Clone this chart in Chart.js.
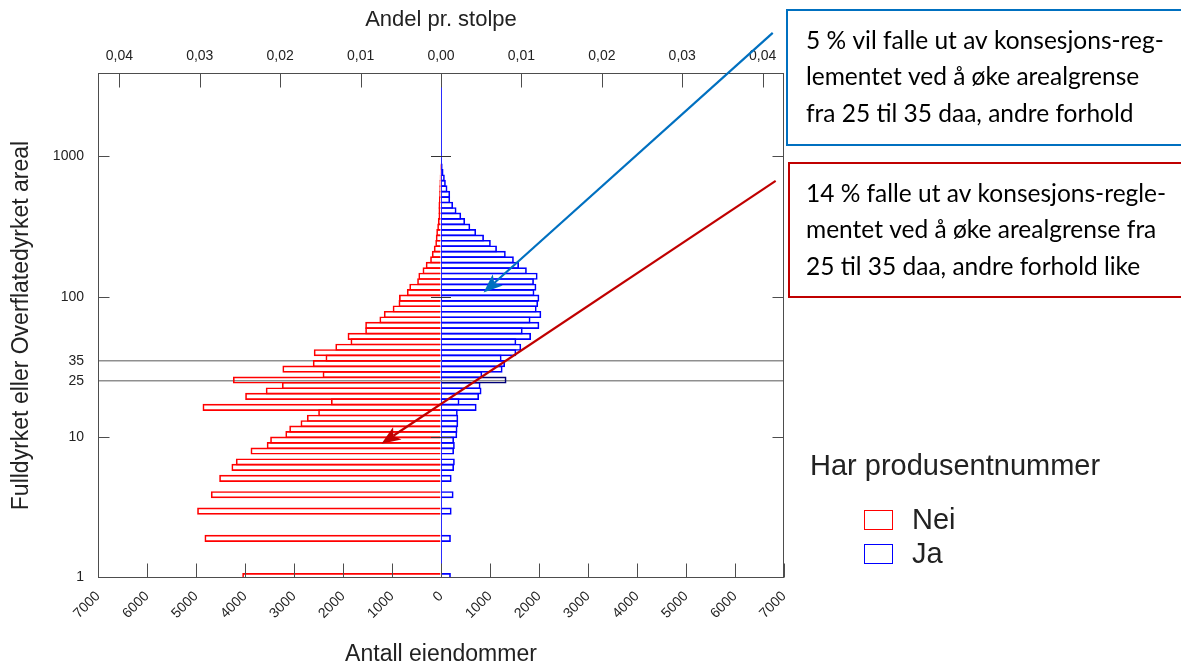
<!DOCTYPE html>
<html lang="no">
<head>
<meta charset="utf-8">
<title>Eiendommer etter fulldyrket areal</title>
<script src="https://cdn.jsdelivr.net/npm/chart.js@4.4.1/dist/chart.umd.min.js"></script>
<style>
  html, body { margin: 0; padding: 0; background: #ffffff; }
  #wrap { width: 1181px; height: 666px; }
</style>
</head>
<body>
<div id="wrap"><canvas id="c" width="1181" height="666"></canvas></div>
<script>
// Midtpunkt (daa) for hver logaritmiske arealklasse som har eiendommer
const arealKlasse = [
  1.011, 1.893, 2.964, 3.878, 5.074, 6.071, 6.640, 7.944, 8.688, 9.503,
  10.39, 11.37, 12.44, 13.60, 14.88, 16.27, 17.80, 19.47, 21.29, 23.29,
  25.47, 27.86, 30.48, 33.33, 36.46, 39.88, 43.62, 47.71, 52.18, 57.07,
  62.43, 68.28, 74.68, 81.69, 89.35, 97.73, 106.9, 116.9, 127.9, 139.9,
  153.0, 167.3, 183.0, 200.2, 218.9, 239.5, 261.9, 286.5, 313.4, 342.8,
  374.9, 410.1, 448.5, 490.6, 536.6, 586.9, 642.0, 702.1, 768.0, 840.1,
  918.9
];

// Antall eiendommer uten produsentnummer
const nei = [
  4050, 4820, 4970, 4690, 4520, 4270, 4180, 3880, 3550, 3480,
  3170, 3090, 2860, 2730, 2500, 4860, 2240, 3990, 3570, 3240,
  4240, 2410, 3230, 2610, 2350, 2590, 2150, 1840, 1900, 1540,
  1540, 1250, 1160, 980, 860, 850, 690, 640, 480, 455,
  370, 305, 215, 180, 140, 110, 100, 90, 70, 57,
  45, 45, 45, 35, 30, 28, 25, 20, 10, 5,
  0
];

// Antall eiendommer med produsentnummer
const ja = [
  195, 195, 210, 250, 210, 260, 275, 260, 275, 260,
  325, 330, 345, 345, 335, 720, 370, 770, 820, 800,
  1330, 835, 1250, 1300, 1230, 1530, 1630, 1530, 1830, 1660,
  2000, 1820, 2040, 1945, 1975, 2000, 1900, 1940, 1890, 1965,
  1745, 1585, 1480, 1315, 1135, 1010, 870, 710, 590, 485,
  405, 310, 240, 180, 180, 125, 92, 71, 45, 27,
  12
];

const yTikker = [1, 10, 25, 35, 100, 1000];
const grenser = [25, 35];
const andelTikker = [-0.04, -0.03, -0.02, -0.01, 0, 0.01, 0.02, 0.03, 0.04];
const xMaks = 7000;

const fargeNei = '#ff0000';
const fargeJa = '#0000ff';
const fargeJaGrense = '#00007a';

const total = nei.reduce((a, b) => a + b, 0) + ja.reduce((a, b) => a + b, 0);

// Merknader med pil fra tekstboks til søylene
const merknadTekst = [
  ['5 % vil falle ut av konsesjons-reg-', 'lementet ved å øke arealgrense', 'fra 25 til 35 daa, andre forhold'],
  ['14 % falle ut av konsesjons-regle-', 'mentet ved å øke arealgrense fra', '25 til 35 daa, andre forhold like']
];
const merknadFarge = ['#0070c0', '#c00000'];
const pilFra = [{ x: 6770, y: 7600 }, { x: 6830, y: 670 }];
const pilTil = [{ x: 870, y: 107 }, { x: -1215, y: 8.96 }];

Chart.defaults.font.family = "'Liberation Sans', Arial, sans-serif";
Chart.defaults.color = '#222222';

const klasseHarGrense = (i) => {
  const v = arealKlasse[i];
  return grenser[0] >= v / 1.046 && grenser[0] < v * 1.046;
};

// Ramme rundt plottet og innadvendte tikkmerker
const ramme = {
  id: 'ramme',
  afterDatasetsDraw(chart) {
    const { ctx, chartArea: a, scales: { x, x2, y } } = chart;
    const l = Math.round(a.left) + 0.5, r = Math.round(a.right) - 0.5;
    const t = Math.round(a.top) + 0.5, b = Math.round(a.bottom) - 0.5;
    ctx.save();
    ctx.strokeStyle = '#4d4d4d';
    ctx.lineWidth = 1;
    ctx.beginPath();
    x.ticks.forEach(tk => {
      const px = Math.round(x.getPixelForValue(tk.value)) + 0.5;
      ctx.moveTo(px, b); ctx.lineTo(px, b - 14);
    });
    x2.ticks.forEach(tk => {
      const px = Math.round(x2.getPixelForValue(tk.value)) + 0.5;
      ctx.moveTo(px, t); ctx.lineTo(px, t + 14);
    });
    const dekader = yTikker.filter(v => Number.isInteger(Math.log10(v)) && v > 1);
    dekader.forEach(v => {
      const py = Math.round(y.getPixelForValue(v)) + 0.5;
      ctx.moveTo(l, py); ctx.lineTo(l + 11, py);
      ctx.moveTo(r, py); ctx.lineTo(r - 11, py);
    });
    ctx.stroke();
    ctx.strokeStyle = '#333333';
    ctx.beginPath();
    const x0 = x.getPixelForValue(0);
    dekader.forEach(v => {
      const py = Math.round(y.getPixelForValue(v)) + 0.5;
      ctx.moveTo(x0 - 10, py); ctx.lineTo(x0 + 10, py);
    });
    ctx.stroke();
    ctx.strokeStyle = '#4d4d4d';
    ctx.strokeRect(l, t, r - l, b - t);
    ctx.restore();
  }
};

// Tegnforklaring til høyre for plottet
const forklaring = {
  id: 'forklaring',
  afterDraw(chart) {
    const { ctx, chartArea: a } = chart;
    const x0 = a.right + 26;
    ctx.save();
    ctx.font = "29px 'Liberation Sans', Arial, sans-serif";
    ctx.fillStyle = '#222222';
    ctx.textBaseline = 'middle';
    ctx.fillText('Har produsentnummer', x0, 467);
    const farger = [fargeNei, fargeJa];
    chart.data.datasets.forEach((ds, i) => {
      const yy = 520 + i * 34;
      ctx.strokeStyle = farger[i];
      ctx.lineWidth = 1;
      ctx.strokeRect(x0 + 54.5, yy - 9.5, 28, 19);
      ctx.fillStyle = '#222222';
      ctx.fillText(ds.label, x0 + 102, yy + 1);
    });
    ctx.restore();
  }
};

// Tekstbokser og piler
const merknader = {
  id: 'merknader',
  afterDraw(chart) {
    const { ctx, scales: { x, y } } = chart;
    ctx.save();
    const bokser = [{ l: 787, t: 10, h: 135 }, { l: 789, t: 163, h: 134 }];
    bokser.forEach((bk, i) => {
      ctx.strokeStyle = merknadFarge[i];
      ctx.lineWidth = 2;
      ctx.strokeRect(bk.l, bk.t, 420, bk.h);
      ctx.fillStyle = '#000000';
      ctx.font = "24.5px Lato, 'Open Sans', sans-serif";
      ctx.textBaseline = 'middle';
      merknadTekst[i].forEach((linje, k) => {
        ctx.fillText(linje, 806, bk.t + 31 + k * 36.5);
      });
    });
    pilFra.forEach((fra, i) => {
      const x1 = x.getPixelForValue(fra.x), y1 = y.getPixelForValue(fra.y);
      const x2 = x.getPixelForValue(pilTil[i].x), y2 = y.getPixelForValue(pilTil[i].y);
      const ang = Math.atan2(y2 - y1, x2 - x1);
      const L = 19, W = 7.5;
      const bx = x2 - Math.cos(ang) * L * 0.75, by = y2 - Math.sin(ang) * L * 0.75;
      ctx.strokeStyle = merknadFarge[i];
      ctx.fillStyle = merknadFarge[i];
      ctx.lineWidth = 2.2;
      ctx.beginPath();
      ctx.moveTo(x1, y1);
      ctx.lineTo(bx, by);
      ctx.stroke();
      const cx = x2 - Math.cos(ang) * L, cy = y2 - Math.sin(ang) * L;
      const nx = -Math.sin(ang), ny = Math.cos(ang);
      ctx.beginPath();
      ctx.moveTo(x2, y2);
      ctx.lineTo(cx + nx * W, cy + ny * W);
      ctx.lineTo(bx, by);
      ctx.lineTo(cx - nx * W, cy - ny * W);
      ctx.closePath();
      ctx.fill();
    });
    ctx.restore();
  }
};

const chart = new Chart(document.getElementById('c'), {
  type: 'bar',
  data: {
    datasets: [
      {
        label: 'Nei',
        data: arealKlasse.map((a, i) => ({ y: a, x: -nei[i] })),
        borderColor: fargeNei,
        backgroundColor: 'rgba(0,0,0,0)',
        borderWidth: 1,
        borderSkipped: 'start',
        barThickness: 6.45,
        stack: 'pyramide'
      },
      {
        label: 'Ja',
        data: arealKlasse.map((a, i) => ({ y: a, x: ja[i] })),
        borderColor: (c) => klasseHarGrense(c.dataIndex) ? fargeJaGrense : fargeJa,
        backgroundColor: 'rgba(0,0,0,0)',
        borderWidth: 1,
        borderSkipped: 'start',
        barThickness: 6.45,
        stack: 'pyramide'
      }
    ]
  },
  options: {
    indexAxis: 'y',
    responsive: false,
    animation: false,
    devicePixelRatio: 1,
    layout: { padding: { left: 0, top: 0, bottom: 0, right: 397 } },
    plugins: { legend: { display: false }, tooltip: { enabled: false } },
    scales: {
      x: {
        type: 'linear',
        position: 'bottom',
        stacked: true,
        min: -xMaks,
        max: xMaks,
        afterFit(s) { s.height = 88; },
        ticks: {
          stepSize: 1000,
          autoSkip: false,
          minRotation: 45,
          maxRotation: 45,
          padding: 10,
          font: { size: 14 },
          callback: (v) => String(Math.abs(v))
        },
        grid: {
          drawTicks: false,
          lineWidth: 1,
          color: (c) => (c.tick && c.tick.value === 0) ? '#2b2bff' : 'rgba(0,0,0,0)'
        },
        border: { display: false },
        title: { display: true, text: 'Antall eiendommer', font: { size: 23, lineHeight: 1 }, padding: { top: 0, bottom: 0 } }
      },
      x2: {
        type: 'linear',
        axis: 'x',
        position: 'top',
        min: -xMaks / total,
        max: xMaks / total,
        afterFit(s) { s.height = 73; },
        afterBuildTicks(s) { s.ticks = andelTikker.map(v => ({ value: v })); },
        ticks: {
          autoSkip: false,
          padding: 8,
          font: { size: 14 },
          callback: (v) => Math.abs(v).toFixed(2).replace('.', ',')
        },
        grid: { display: false, drawTicks: false },
        border: { display: false },
        title: { display: true, text: 'Andel pr. stolpe', font: { size: 22, lineHeight: 1 }, padding: { top: 9, bottom: 0 } }
      },
      y: {
        type: 'logarithmic',
        position: 'left',
        offset: false,
        min: 0.9886,
        max: 3930,
        afterFit(s) { s.width = 98; },
        afterBuildTicks(s) { s.ticks = yTikker.map(v => ({ value: v })); },
        ticks: {
          autoSkip: false,
          padding: 14,
          font: { size: 14 },
          callback: (v) => String(v)
        },
        grid: {
          offset: false,
          drawTicks: false,
          lineWidth: 1.6,
          color: (c) => (c.tick && grenser.includes(c.tick.value)) ? '#8f8f8f' : 'rgba(0,0,0,0)'
        },
        border: { display: false },
        title: { display: true, text: 'Fulldyrket eller Overflatedyrket areal', font: { size: 23, lineHeight: 1 }, padding: { top: 10, bottom: 0 } }
      }
    }
  },
  plugins: [ramme, forklaring, merknader]
});
</script>
</body>
</html>
